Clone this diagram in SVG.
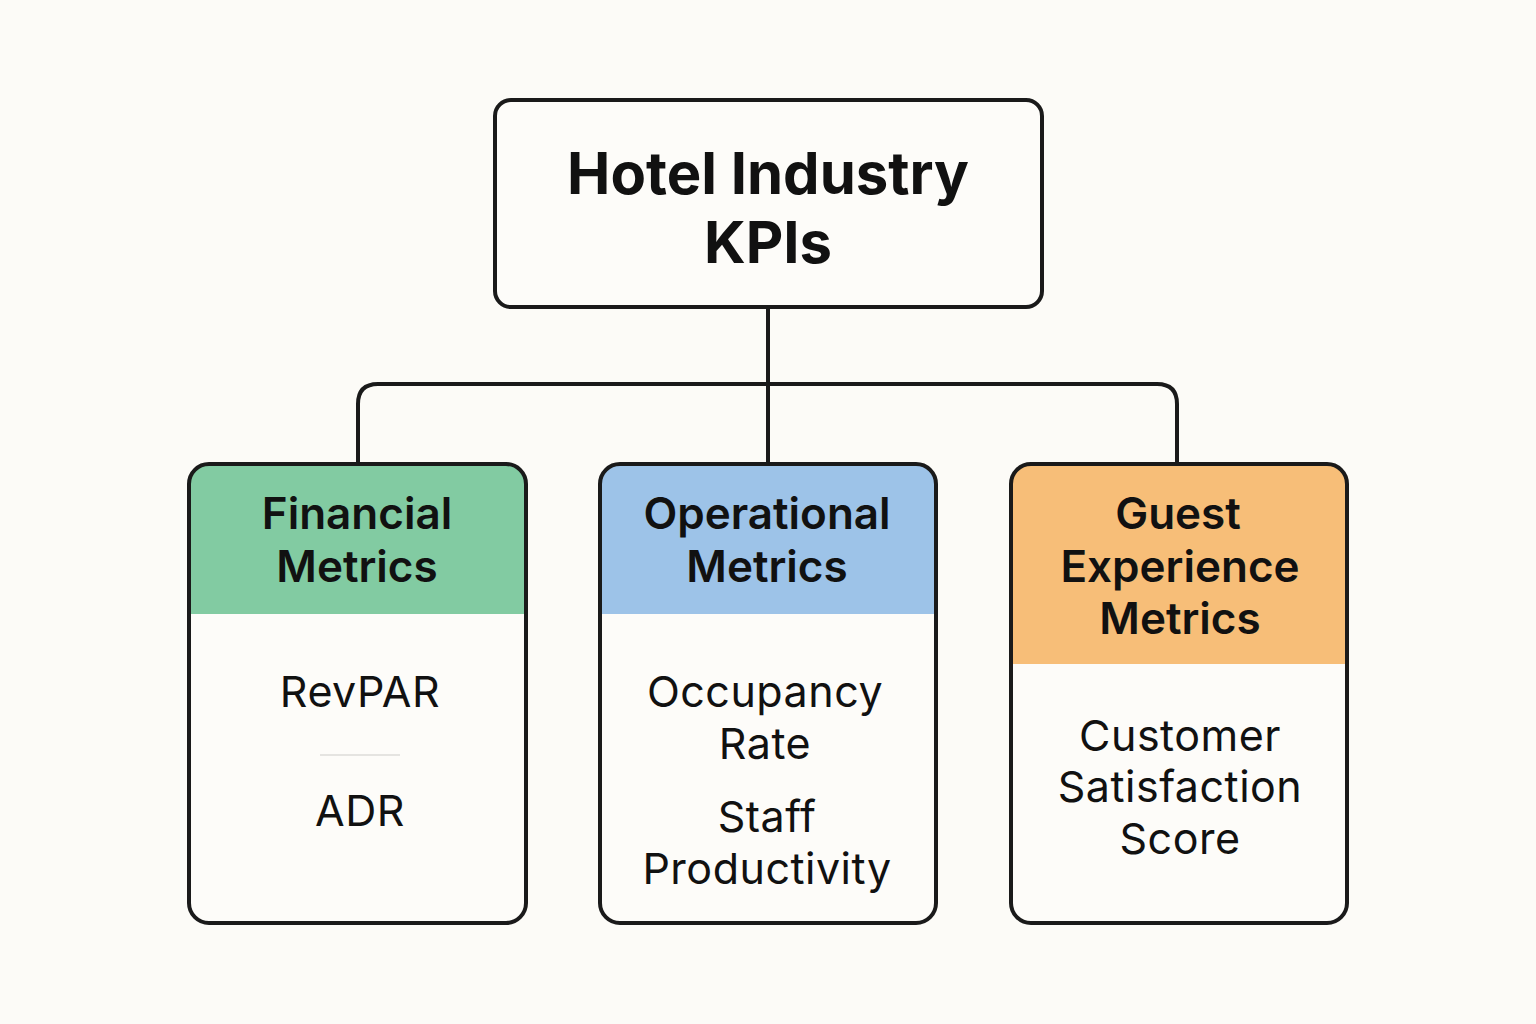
<svg xmlns="http://www.w3.org/2000/svg" width="1536" height="1024" viewBox="0 0 1536 1024">
<style>
.bg{fill:#FCFBF7}
.card{fill:#FDFCF9}
.box{fill:none;stroke:#1A1A1A;stroke-width:4}
.conn{fill:none;stroke:#1A1A1A;stroke-width:4}
.title{font-family:Inter,"Liberation Sans",sans-serif;font-weight:700;font-size:58px;fill:#111;text-anchor:middle}
.head{font-family:Inter,"Liberation Sans",sans-serif;font-weight:600;font-size:44px;fill:#111;text-anchor:middle}
.item{font-family:Inter,"Liberation Sans",sans-serif;font-weight:400;font-size:43px;fill:#111;text-anchor:middle;letter-spacing:0.5px}
</style>
<rect class="bg" width="1536" height="1024"/>
<g id="connectors">
<path class="conn" d="M768 307 V463"/>
<path class="conn" d="M358 463 V404 Q358 384 378 384 H1157 Q1177 384 1177 404 V463"/>
</g>
<g id="root">
<rect class="card" x="495" y="100" width="547" height="207" rx="16"/>
<rect class="box" x="495" y="100" width="547" height="207" rx="16"/>
<text class="title" x="768" y="194">Hotel Industry</text>
<text class="title" x="768" y="263">KPIs</text>
</g>
<g id="financial">
<rect class="card" x="189" y="464" width="337" height="459" rx="20"/>
<path d="M189 614 V484 A20 20 0 0 1 209 464 H506 A20 20 0 0 1 526 484 V614 Z" fill="#82CBA2"/>
<rect class="box" x="189" y="464" width="337" height="459" rx="20"/>
<text class="head" x="357" y="529">Financial</text>
<text class="head" x="357" y="582">Metrics</text>
<text class="item" x="360" y="707">RevPAR</text>
<line x1="320" y1="755" x2="400" y2="755" stroke="#DDDCD8" stroke-width="1.5"/>
<text class="item" x="360" y="826">ADR</text>
</g>
<g id="operational">
<rect class="card" x="600" y="464" width="336" height="459" rx="20"/>
<path d="M600 614 V484 A20 20 0 0 1 620 464 H916 A20 20 0 0 1 936 484 V614 Z" fill="#9DC3E8"/>
<rect class="box" x="600" y="464" width="336" height="459" rx="20"/>
<text class="head" x="767" y="529">Operational</text>
<text class="head" x="767" y="582">Metrics</text>
<text class="item" x="765" y="707">Occupancy</text>
<text class="item" x="765" y="759">Rate</text>
<text class="item" x="767" y="832">Staff</text>
<text class="item" x="767" y="884">Productivity</text>
</g>
<g id="guest">
<rect class="card" x="1011" y="464" width="336" height="459" rx="20"/>
<path d="M1011 664 V484 A20 20 0 0 1 1031 464 H1327 A20 20 0 0 1 1347 484 V664 Z" fill="#F7BE78"/>
<rect class="box" x="1011" y="464" width="336" height="459" rx="20"/>
<text class="head" x="1178" y="529">Guest</text>
<text class="head" x="1180" y="582">Experience</text>
<text class="head" x="1180" y="634">Metrics</text>
<text class="item" x="1180" y="751">Customer</text>
<text class="item" x="1180" y="802">Satisfaction</text>
<text class="item" x="1180" y="854">Score</text>
</g>
</svg>
